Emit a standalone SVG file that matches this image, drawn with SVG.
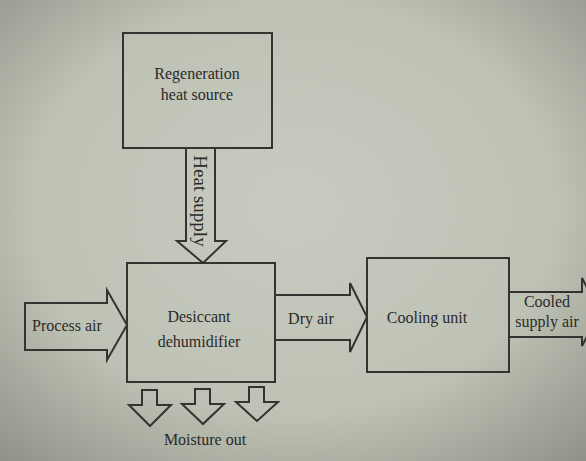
<svg xmlns="http://www.w3.org/2000/svg" width="586" height="461" viewBox="0 0 586 461">
<defs>
<radialGradient id="bg" cx="0.5" cy="0.45" r="0.75">
<stop offset="0" stop-color="#c8ccc0"/>
<stop offset="0.6" stop-color="#bec2b5"/>
<stop offset="1" stop-color="#8e9286"/>
</radialGradient>
<style>
.box{fill:none;stroke:#33332f;stroke-width:2}
.arr{fill:none;stroke:#33332f;stroke-width:2;stroke-linejoin:miter}
text{font-family:"Liberation Serif","Times New Roman",serif;font-size:16px;fill:#2a2a28;text-anchor:middle}
</style>
</defs>
<rect width="586" height="461" fill="url(#bg)"/>
<g id="connectors">
<polygon class="arr" points="186,148 215,148 215,241 226,241 203,263 177,241 186,241"/>
<polygon class="arr" points="25,303 107,303 107,290 127,325 107,360 107,350 25,350"/>
<polygon class="arr" points="275,295 350,295 350,283 367,317 350,352 350,340 275,340"/>
<polygon class="arr" points="509,292 582,292 582,278 600,312 582,346 582,337 509,337"/>
<polygon class="arr" points="142,390 157,390 157,405 171,405 150,426 129,405 142,405"/>
<polygon class="arr" points="195,389 210,389 210,404 224,404 203,424 182,404 195,404"/>
<polygon class="arr" points="249,387 264,387 264,402 278,402 257,421 236,402 249,402"/>
</g>
<g id="regeneration">
<rect class="box" x="123" y="33" width="149" height="115"/>
<text x="197" y="79">Regeneration</text>
<text x="197" y="100">heat source</text>
</g>
<g id="desiccant">
<rect class="box" x="127" y="263" width="148" height="119"/>
<text x="199" y="322">Desiccant</text>
<text x="199" y="347">dehumidifier</text>
</g>
<g id="cooling">
<rect class="box" x="367" y="258" width="142" height="114"/>
<text x="427" y="323">Cooling unit</text>
</g>
<g id="labels">
<text transform="translate(194,201) rotate(90)" x="0" y="0" style="font-size:19px">Heat supply</text>
<text x="67" y="331">Process air</text>
<text x="311" y="324">Dry air</text>
<text x="547" y="307">Cooled</text>
<text x="547" y="327">supply air</text>
<text x="205" y="445">Moisture out</text>
</g>
</svg>
